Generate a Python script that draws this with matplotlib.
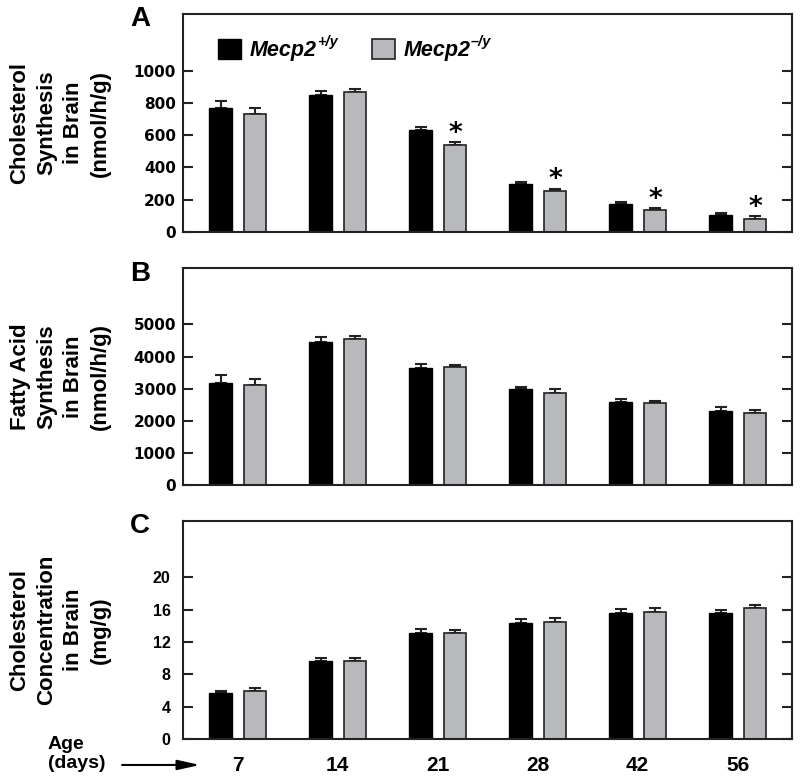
import numpy as np
import matplotlib
matplotlib.use("Agg")
import matplotlib.pyplot as plt
from matplotlib.patches import Patch

plt.rcParams["font.family"] = ["Liberation Sans", "DejaVu Sans"]
plt.rcParams["font.weight"] = "bold"

ages = ["7", "14", "21", "28", "42", "56"]

# A: cholesterol synthesis (nmol/h/g)
chol_syn_wt = [768, 851, 633, 298, 172, 104]
chol_syn_wt_err = [46, 20, 19, 13, 14, 14]
chol_syn_ko = [731, 865, 536, 253, 135, 83]
chol_syn_ko_err = [37, 21, 19, 16, 14, 16]
chol_syn_sig = [False, False, True, True, True, True]

# B: fatty acid synthesis (nmol/h/g)
fa_syn_wt = [3185, 4445, 3629, 2988, 2595, 2295]
fa_syn_wt_err = [227, 155, 134, 72, 93, 135]
fa_syn_ko = [3123, 4550, 3660, 2875, 2543, 2233]
fa_syn_ko_err = [186, 95, 83, 124, 83, 93]
fa_syn_sig = [False] * 6

# C: cholesterol concentration (mg/g)
chol_conc_wt = [5.65, 9.65, 13.16, 14.32, 15.59, 15.55]
chol_conc_wt_err = [0.33, 0.40, 0.41, 0.57, 0.45, 0.37]
chol_conc_ko = [5.98, 9.65, 13.08, 14.48, 15.72, 16.17]
chol_conc_ko_err = [0.37, 0.37, 0.45, 0.50, 0.45, 0.37]
chol_conc_sig = [False] * 6

genotypes = ["Mecp2", "Mecp2"]
genotype_sup = ["+/y", "\u2013/y"]

WT_COLOR = "black"
KO_COLOR = "#b8b9bd"
EDGE = "#222222"

x = np.arange(len(ages))
off = 0.1725
width = 0.225


def draw_panel(ax, wt, wt_err, ko, ko_err, sig, top, step, ylabel, letter,
               tick_font, tick_size, tick_pad):
    ax.bar(x - off, wt, width, color=WT_COLOR, edgecolor=WT_COLOR, linewidth=1.0, zorder=2)
    ax.bar(x + off, ko, width, color=KO_COLOR, edgecolor=EDGE, linewidth=1.2, zorder=2)
    zeros = np.zeros(len(x))
    ax.errorbar(x - off, wt, yerr=[zeros, wt_err], fmt="none", ecolor=EDGE,
                elinewidth=1.5, capsize=4.3, capthick=1.5, zorder=1)
    ax.errorbar(x + off, ko, yerr=[zeros, ko_err], fmt="none", ecolor=EDGE,
                elinewidth=1.5, capsize=4.3, capthick=1.5, zorder=1)
    for i, s in enumerate(sig):
        if s:
            ax.annotate("*", xy=(x[i] + off, ko[i] + ko_err[i]), xytext=(0, -3.5),
                        textcoords="offset points", ha="center", va="bottom",
                        fontsize=19, fontweight="bold", family="DejaVu Sans")

    ax.set_xlim(-0.5475, 5.5425)
    ax.set_ylim(0, top * 1.35)
    ticks = np.arange(0, top + step / 2, step)
    ax.set_yticks(ticks, labels=[f"{t:g}" for t in ticks])
    ax.tick_params(axis="y", direction="in", left=True, right=True, length=7,
                   width=1.5, color=EDGE, pad=tick_pad, labelsize=tick_size,
                   labelfontfamily=tick_font)
    ax.tick_params(axis="x", length=0)
    for sp in ax.spines.values():
        sp.set_linewidth(1.5)
        sp.set_color(EDGE)

    ax.text(-0.202, 0.5, ylabel, transform=ax.transAxes, rotation=90, ha="center",
            va="center", multialignment="center", fontsize=16, fontweight="bold",
            linespacing=1.35)
    ax.text(-0.07, 0.975, letter, transform=ax.transAxes, ha="center", va="center",
            fontsize=20, fontweight="bold")


fig = plt.figure(figsize=(8, 7.83), dpi=100)
ax_a = fig.add_axes([0.22875, 0.7037, 0.76125, 0.2784])
ax_b = fig.add_axes([0.22875, 0.3806, 0.76125, 0.2768])
ax_c = fig.add_axes([0.22875, 0.0562, 0.76125, 0.2788])

draw_panel(ax_a, chol_syn_wt, chol_syn_wt_err, chol_syn_ko, chol_syn_ko_err, chol_syn_sig,
           1000, 200, "Cholesterol\nSynthesis\nin Brain\n(nmol/h/g)", "A",
           "DejaVu Sans", 11, 5)
draw_panel(ax_b, fa_syn_wt, fa_syn_wt_err, fa_syn_ko, fa_syn_ko_err, fa_syn_sig,
           5000, 1000, "Fatty Acid\nSynthesis\nin Brain\n(nmol/h/g)", "B",
           "DejaVu Sans", 11, 5)
draw_panel(ax_c, chol_conc_wt, chol_conc_wt_err, chol_conc_ko, chol_conc_ko_err, chol_conc_sig,
           20, 4, "Cholesterol\nConcentration\nin Brain\n(mg/g)", "C",
           "Liberation Sans", 11.5, 9)

ax_a.set_xticks([])
ax_b.set_xticks([])
ax_c.set_xticks(x, labels=ages, fontsize=15, fontweight="bold")
ax_c.tick_params(axis="x", pad=12)

# age axis caption with arrow
ax_c.text(-0.222, -0.069, "Age\n(days)", transform=ax_c.transAxes, ha="left",
          va="center", fontsize=14, fontweight="bold")
ax_c.annotate("", xy=(0.028, -0.119), xytext=(-0.1, -0.119), xycoords="axes fraction",
              textcoords="axes fraction", annotation_clip=False,
              arrowprops=dict(arrowstyle="-|>,head_length=0.9,head_width=0.2",
                              mutation_scale=15, color="black", lw=1.5,
                              shrinkA=0, shrinkB=0))

# legend in panel A, superscripts attached to the legend texts
handles = [Patch(facecolor=WT_COLOR, edgecolor=WT_COLOR),
           Patch(facecolor=KO_COLOR, edgecolor=EDGE, linewidth=1.2)]
leg = ax_a.legend(handles, genotypes, loc="upper left", bbox_to_anchor=(0.0575, 0.885),
                  ncol=2, frameon=False, handlelength=1.05, handleheight=1.05,
                  handletextpad=0.4, columnspacing=2.6, borderpad=0, borderaxespad=0,
                  prop={"family": "Liberation Sans", "size": 15.5, "weight": "bold",
                        "style": "italic"})
fig.canvas.draw()
for txt, sup in zip(leg.get_texts(), genotype_sup):
    ax_a.annotate(sup, xy=(1, 1), xycoords=txt, xytext=(0.5, -1),
                  textcoords="offset points", ha="left", va="center",
                  fontsize=10.5, fontweight="bold", style="italic",
                  family="Liberation Sans", annotation_clip=False)

fig.savefig("out.png", dpi=100)
